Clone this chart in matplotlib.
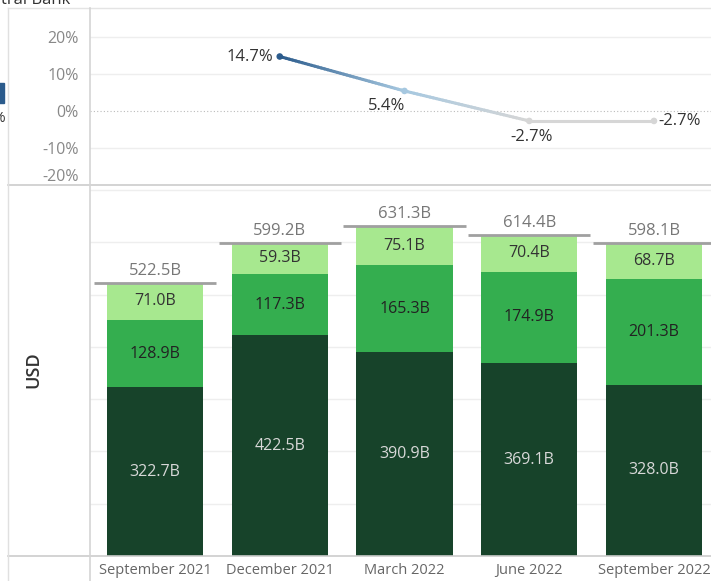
import numpy as np
import matplotlib.pyplot as plt
from matplotlib.collections import LineCollection
from matplotlib.colors import LinearSegmentedColormap
from matplotlib.lines import Line2D
from matplotlib.patches import Rectangle

plt.rcParams['font.family'] = ['Open Sans', 'DejaVu Sans']

# Data
quarters = ["September 2021", "December 2021", "March 2022", "June 2022", "September 2022"]
bottom_seg = [322.7, 422.5, 390.9, 369.1, 328.0]
middle_seg = [128.9, 117.3, 165.3, 174.9, 201.3]
top_seg = [71.0, 59.3, 75.1, 70.4, 68.7]
totals = [522.5, 599.2, 631.3, 614.4, 598.1]
growth_idx = [1, 2, 3, 4]
growth = [14.7, 5.4, -2.7, -2.7]

W, H = 711, 581
fig = plt.figure(figsize=(W / 100, H / 100), dpi=100)

def fx(px):
    return px / W

def fy(py):
    return 1 - py / H

left, right = 90, 711
ax_top = fig.add_axes([fx(left), fy(185), fx(right - left), fy(8) - fy(185)])
ax_bot = fig.add_axes([fx(left), fy(556), fx(right - left), fy(185) - fy(556)])

x = np.arange(len(quarters))
xlim = (-0.521, 4.457)

# ---- bottom: stacked bars
c_dark, c_mid, c_light = "#17432a", "#34ae4f", "#a7e88f"
bw = 0.77
b1 = np.array(bottom_seg)
b2 = b1 + np.array(middle_seg)
ax_bot.bar(x, bottom_seg, bw, color=c_dark, zorder=2)
ax_bot.bar(x, middle_seg, bw, bottom=b1, color=c_mid, zorder=2)
ax_bot.bar(x, top_seg, bw, bottom=b2, color=c_light, zorder=2)

for i in range(len(x)):
    ax_bot.text(x[i], bottom_seg[i] / 2, f"{bottom_seg[i]:.1f}B", ha="center", va="center",
                fontsize=11.5, color="#d8d8d8", zorder=3)
    ax_bot.text(x[i], b1[i] + middle_seg[i] / 2, f"{middle_seg[i]:.1f}B", ha="center", va="center",
                fontsize=11.5, color="#222222", zorder=3)
    ax_bot.text(x[i], b2[i] + top_seg[i] / 2, f"{top_seg[i]:.1f}B", ha="center", va="center",
                fontsize=11.5, color="#333333", zorder=3)
    ax_bot.hlines(totals[i], x[i] - 0.49, x[i] + 0.49, color="#a0a0a0", lw=2, zorder=3)
    ax_bot.annotate(f"{totals[i]:.1f}B", (x[i], totals[i]), xytext=(0, 4),
                    textcoords="offset pixels", ha="center", va="bottom",
                    fontsize=12, color="#777777", zorder=3)

ax_bot.set_xlim(*xlim)
ax_bot.set_ylim(0, 710)
ax_bot.set_yticks(np.arange(100, 701, 100))
ax_bot.yaxis.grid(True, color="#eeeeee", lw=1, zorder=0)
ax_bot.tick_params(axis="y", length=0, labelleft=False)
ax_bot.set_xticks(x)
ax_bot.set_xticklabels(quarters, fontsize=10.5, color="#666666")
ax_bot.tick_params(axis="x", length=0, pad=5)
for s in ax_bot.spines.values():
    s.set_visible(False)

# ---- top: growth line with colour gradient
cmap = LinearSegmentedColormap.from_list(
    "g", [(0.0, "#d6d6d6"), ((5.4 + 2.7) / (14.7 + 2.7), "#a6c8e0"), (1.0, "#2b5b8c")])
vmin, vmax = -2.7, 14.7
pts_x, pts_y = [], []
for k in range(len(growth_idx) - 1):
    t = np.linspace(0, 1, 40)
    pts_x.append(growth_idx[k] + (growth_idx[k + 1] - growth_idx[k]) * t)
    pts_y.append(growth[k] + (growth[k + 1] - growth[k]) * t)
px = np.concatenate(pts_x)
py = np.concatenate(pts_y)
segs = np.stack([np.column_stack([px[:-1], py[:-1]]), np.column_stack([px[1:], py[1:]])], axis=1)
vals = (py[:-1] + py[1:]) / 2
lc = LineCollection(segs, colors=cmap((vals - vmin) / (vmax - vmin)), linewidths=2.2,
                    capstyle="round", zorder=3)
ax_top.add_collection(lc)
ax_top.scatter(growth_idx, growth, s=14,
               c=cmap((np.array(growth) - vmin) / (vmax - vmin)), zorder=4)

lab_off = [(-6, 0, "right", "center"), (-18, -15, "center", "center"),
           (2, -16, "center", "center"), (4, 0, "left", "center")]
for (xi, yi), (dx, dy, ha, va) in zip(zip(growth_idx, growth), lab_off):
    ax_top.annotate(f"{yi:.1f}%", (xi, yi), xytext=(dx, dy), textcoords="offset pixels",
                    ha=ha, va=va, fontsize=12, color="#333333", zorder=5)

ax_top.set_xlim(*xlim)
ax_top.set_ylim(-20, 27.8)
ax_top.set_xticks([])
ax_top.set_yticks([20, 10, 0, -10, -20])
ax_top.set_yticklabels(["20%", "10%", "0%", "-10%", "-20%"], fontsize=11.5, color="#888888")
ax_top.tick_params(axis="y", length=0, pad=8)
ax_top.get_yticklabels()[-1].set_va("bottom")
for yv in [20, 10, -10]:
    ax_top.axhline(yv, color="#eeeeee", lw=1, zorder=0)
ax_top.axhline(0, color="#bbbbbb", lw=0.8, ls=(0, (1, 2)), zorder=1)
for s in ax_top.spines.values():
    s.set_visible(False)

# ---- frame lines
def hline(py, x0, x1, color, lw=1.0):
    fig.add_artist(Line2D([fx(x0), fx(x1)], [fy(py), fy(py)], color=color, lw=lw))

def vline(px_, y0, y1, color, lw=1.0):
    fig.add_artist(Line2D([fx(px_), fx(px_)], [fy(y0), fy(y1)], color=color, lw=lw))

hline(8, 8, 711, "#e4e4e4")
hline(185, 8, 711, "#cccccc", 1.2)
hline(556, 8, 711, "#cccccc", 1.2)
vline(8, 8, 581, "#e0e0e0")
vline(90, 8, 581, "#d4d4d4", 1.2)

fig.text(fx(33), fy(370), "USD", rotation=90, ha="center", va="center",
         fontsize=13, fontweight="semibold", color="#333333")

# cut-off fragments at the top-left edge (as in the cropped original)
fig.text(fx(70), fy(4), "Central Bank", ha="right", va="baseline", fontsize=12, color="#333333")
fig.add_artist(Rectangle((fx(-6), fy(103)), fx(10), fy(83) - fy(103), color="#2b5b8c"))
fig.text(fx(5), fy(118), "%", ha="right", va="center", fontsize=11, color="#333333")

fig.savefig("out.png", dpi=100)
